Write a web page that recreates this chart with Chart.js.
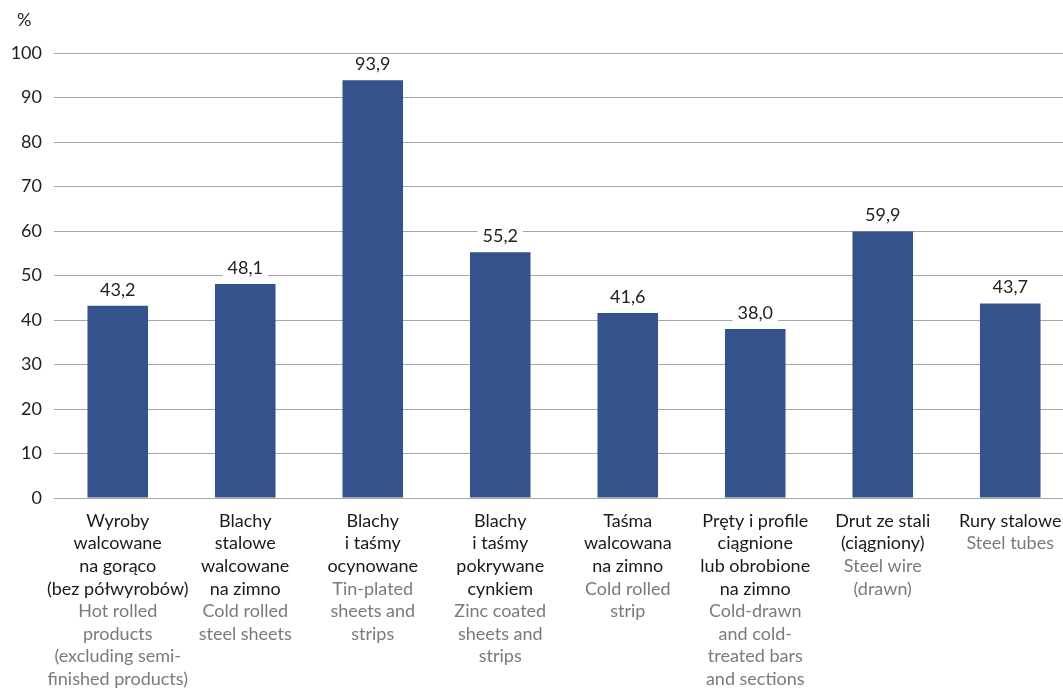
<!DOCTYPE html>
<html><head><meta charset="utf-8">
<script src="https://cdn.jsdelivr.net/npm/chart.js@4.4.1/dist/chart.umd.min.js"></script>
<style>html,body{margin:0;padding:0;overflow:hidden;background:#fff}#wrap{width:1080px;height:689px;position:relative}</style>
</head><body><div id="wrap"><canvas id="c"></canvas></div>
<script>
const categoriesPl = [
  ["Wyroby","walcowane","na gorąco","(bez półwyrobów)"],
  ["Blachy","stalowe","walcowane","na zimno"],
  ["Blachy","i taśmy","ocynowane"],
  ["Blachy","i taśmy","pokrywane","cynkiem"],
  ["Taśma","walcowana","na zimno"],
  ["Pręty i profile","ciągnione","lub obrobione","na zimno"],
  ["Drut ze stali","(ciągniony)"],
  ["Rury stalowe"]
];
const categoriesEn = [
  ["Hot rolled","products","(excluding semi-","finished products)"],
  ["Cold rolled","steel sheets"],
  ["Tin-plated","sheets and","strips"],
  ["Zinc coated","sheets and","strips"],
  ["Cold rolled","strip"],
  ["Cold-drawn","and cold-","treated bars","and sections"],
  ["Steel wire","(drawn)"],
  ["Steel tubes"]
];
const values = [43.2, 48.1, 93.9, 55.2, 41.6, 38.0, 59.9, 43.7];
const yTicks = [0,10,20,30,40,50,60,70,80,90,100];
const unitLabel = "%";

const FONT = "Lato, 'Noto Sans', sans-serif";

const labelsPlugin = {
  id: 'customLabels',
  afterDatasetsDraw(chart) {
    const ctx = chart.ctx;
    const meta = chart.getDatasetMeta(0);
    ctx.save();
    ctx.font = "18px " + FONT;
    ctx.textAlign = "center";
    ctx.textBaseline = "middle";
    meta.data.forEach((bar, i) => {
      const txt = values[i].toFixed(1).replace('.', ',');
      const w = ctx.measureText(txt).width + 10;
      const y = bar.y - 16;
      ctx.fillStyle = "#fff";
      ctx.fillRect(bar.x - w/2, y - 10, w, 20);
      ctx.fillStyle = "#222";
      ctx.fillText(txt, bar.x, y);
    });
    // category labels
    const xs = chart.scales.x;
    const top = chart.chartArea.bottom + 23;
    const lh = 22.6;
    categoriesPl.forEach((pl, i) => {
      const x = xs.getPixelForValue(i);
      let y = top;
      ctx.fillStyle = "#1a1a1a";
      pl.forEach(line => { ctx.fillText(line, x, y); y += lh; });
      ctx.fillStyle = "#7a7a7a";
      categoriesEn[i].forEach(line => { ctx.fillText(line, x, y); y += lh; });
    });
    ctx.fillStyle = "#222";
    ctx.textAlign = "left";
    ctx.fillText(unitLabel, 17, 20);
    ctx.restore();
  }
};

new Chart(document.getElementById('c'), {
  type: 'bar',
  data: {
    labels: categoriesPl.map(l => l.join(' ')),
    datasets: [{ data: values, backgroundColor: '#34528c', barPercentage: 0.95, categoryPercentage: 0.5 }]
  },
  options: {
    responsive: true,
    maintainAspectRatio: false,
    animation: false,
    layout: { padding: { top: 53, bottom: 0, right: 6, left: 0 } },
    plugins: { legend: { display: false }, tooltip: { enabled: false } },
    scales: {
      x: {
        grid: { display: false },
        border: { display: false },
        ticks: { display: false },
        afterFit(scale) { scale.height = 191; }
      },
      y: {
        min: 0, max: 100,
        afterBuildTicks(scale) { scale.ticks = yTicks.map(v => ({ value: v })); },
        grid: { color: '#a6a6a6', lineWidth: 1, drawTicks: false },
        border: { display: false },
        ticks: { color: '#222', font: { size: 18, family: FONT }, padding: 12 },
        afterFit(scale) { scale.width = 54; }
      }
    }
  },
  plugins: [labelsPlugin]
});
</script></body></html>
